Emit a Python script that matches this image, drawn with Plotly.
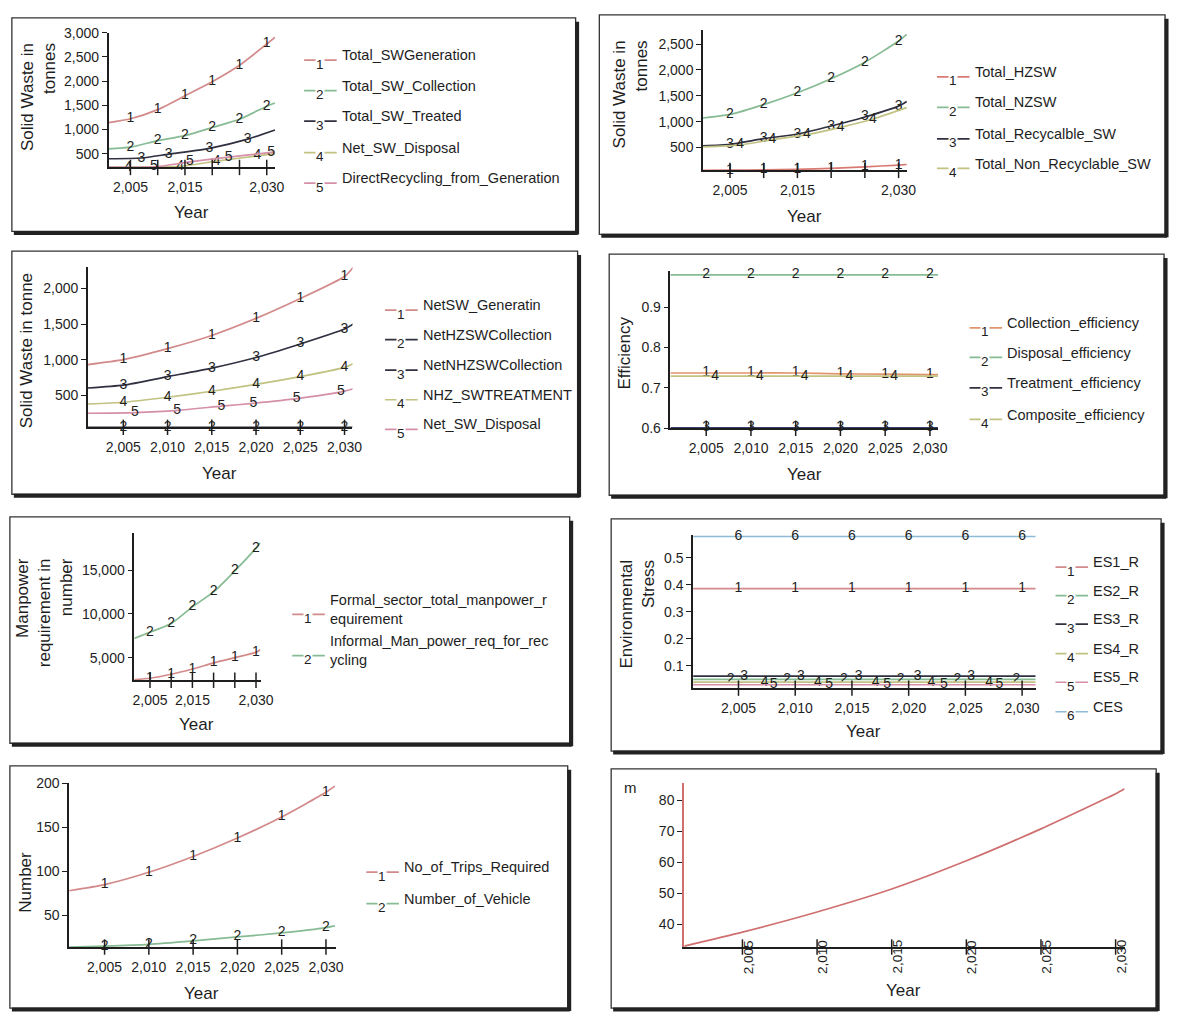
import plotly.graph_objects as go

W, H = 1182, 1019
FONT = "Liberation Sans, Arial, sans-serif"
INK = "#1e1e1e"

# ---------------- data ----------------
# Panel 1: total solid waste streams (tonnes)
p1_names = ["Total_SWGeneration", "Total_SW_Collection", "Total_SW_Treated",
            "Net_SW_Disposal", "DirectRecycling_from_Generation"]
p1_year = [2001, 2005, 2010, 2015, 2020, 2025, 2030, 2031.5]
p1_generation = [1140, 1220, 1410, 1695, 1985, 2325, 2765, 2900]
p1_collection = [600, 635, 770, 872, 1040, 1210, 1480, 1547]
p1_year_treated = [2001, 2007, 2012, 2019.5, 2026.5, 2031.5]
p1_treated = [395, 410, 490, 610, 800, 990]
p1_year_disposal = [2001, 2004.6, 2014.1, 2020.8, 2028.3, 2031.5]
p1_disposal = [222, 224, 238, 345, 455, 500]
p1_year_recycling = [2001, 2009.3, 2015.9, 2023, 2030.8, 2031.5]
p1_recycling = [222, 226, 330, 430, 525, 535]

# Panel 2: hazardous / non-hazardous split (tonnes)
p2_names = ["Total_HZSW", "Total_NZSW", "Total_Recycalble_SW", "Total_Non_Recyclable_SW"]
p2_year = [2001, 2005, 2010, 2015, 2020, 2025, 2030, 2031.2]
p2_hzsw = [55, 60, 65, 75, 95, 125, 160, 170]
p2_nzsw = [1070, 1140, 1330, 1560, 1830, 2150, 2560, 2690]
p2_recyclable = [530, 560, 670, 760, 915, 1090, 1300, 1390]
p2_year_nonrec = [2001, 2006.5, 2011.3, 2016.4, 2021.4, 2026.2, 2031.2]
p2_nonrec = [510, 550, 650, 750, 890, 1050, 1270]

# Panel 3: net flows (tonne)
p3_names = ["NetSW_Generatin", "NetHZSWCollection", "NetNHZSWCollection",
            "NHZ_SWTREATMENT", "Net_SW_Disposal"]
p3_year = [2001, 2005, 2010, 2015, 2020, 2025, 2030, 2031]
p3_generation = [930, 1000, 1155, 1340, 1580, 1860, 2170, 2300]
p3_hz_collection = [48, 48, 48, 48, 48, 48, 48, 48]
p3_nhz_collection = [600, 640, 760, 880, 1030, 1220, 1430, 1500]
p3_treatment = [375, 400, 470, 555, 650, 760, 890, 945]
p3_year_disposal = [2001, 2006.3, 2011.1, 2016.1, 2019.7, 2024.6, 2029.6, 2031]
p3_disposal = [245, 255, 285, 345, 385, 450, 545, 590]

# Panel 4: efficiencies
p4_names = ["Collection_efficiency", "Disposal_efficiency", "Treatment_efficiency",
            "Composite_efficiency"]
p4_year = [2001, 2005, 2010, 2015, 2020, 2025, 2030, 2031]
p4_collection = [0.737, 0.737, 0.737, 0.737, 0.735, 0.734, 0.733, 0.733]
p4_disposal = [0.98, 0.98, 0.98, 0.98, 0.98, 0.98, 0.98, 0.98]
p4_treatment = [0.601, 0.601, 0.601, 0.601, 0.601, 0.601, 0.601, 0.601]
p4_year_composite = [2001, 2006, 2011, 2016, 2021, 2026, 2031]
p4_composite = [0.729, 0.729, 0.729, 0.729, 0.729, 0.729, 0.729]

# Panel 5: manpower requirement (number)
p5_names = ["Formal_sector_total_manpower_r<br>equirement",
            "Informal_Man_power_req_for_rec<br>ycling"]
p5_year = [2001.3, 2005, 2010, 2015, 2020, 2025, 2030, 2031]
p5_formal = [2500, 2650, 3100, 3700, 4400, 5000, 5600, 5900]
p5_informal = [7200, 7900, 8900, 10800, 12500, 14900, 17500, 18100]

# Panel 6: environmental stress
p6_names = ["ES1_R", "ES2_R", "ES3_R", "ES4_R", "ES5_R", "CES"]
p6_year = [2001, 2005, 2010, 2015, 2020, 2025, 2030, 2031.2]
p6_es1 = [0.385, 0.385, 0.385, 0.385, 0.385, 0.385, 0.385, 0.385]
p6_ces = [0.578, 0.578, 0.578, 0.578, 0.578, 0.578, 0.578, 0.578]
p6_year_es2 = [2001, 2004.3, 2009.3, 2014.3, 2019.3, 2024.3, 2029.5, 2031.2]
p6_es2 = [0.05, 0.05, 0.05, 0.05, 0.05, 0.05, 0.05, 0.05]
p6_year_es3 = [2001, 2005.5, 2010.5, 2015.6, 2020.8, 2025.5, 2031.2]
p6_es3 = [0.062, 0.062, 0.062, 0.062, 0.062, 0.062, 0.062]
p6_year_es4 = [2001, 2007.3, 2012, 2017.1, 2022, 2027.1, 2031.2]
p6_es4 = [0.04, 0.04, 0.04, 0.04, 0.04, 0.04, 0.04]
p6_year_es5 = [2001, 2008.1, 2013, 2018.1, 2023.1, 2028, 2031.2]
p6_es5 = [0.03, 0.03, 0.03, 0.03, 0.03, 0.03, 0.03]

# Panel 7: collection logistics
p7_names = ["No_of_Trips_Required", "Number_of_Vehicle"]
p7_year = [2001, 2005, 2010, 2015, 2020, 2025, 2030, 2031]
p7_trips = [78, 85, 99, 117, 138, 162, 190, 197]
p7_vehicles = [14, 15, 17, 21, 25.5, 30, 36, 38]

# Panel 8: landfill height (m)
p8_year = [2001.1, 2005, 2010, 2015, 2020, 2025, 2030, 2030.6]
p8_height = [33, 37.5, 44, 51.4, 60.5, 70.8, 82.1, 83.7]

year_ticks = [2005, 2010, 2015, 2020, 2025, 2030]
sparse_year_labels = [2005, 2015, 2030]

# ---------------- styling ----------------
RED, GREEN, DARK, OLIVE, PINK, BLUE = ("#d38a8a", "#86bb94", "#2f3040",
                                       "#c2c283", "#d58fa8", "#8dbad6")
ORANGE = "#e2946c"

panels = [
    dict(area=(108, 25, 277, 162), frame=(10, 10, 581, 227),
         xr=[2001, 2031.6], yr=[215, 3000], yt=[500, 1000, 1500, 2000, 2500, 3000], yf=",d",
         xl=sparse_year_labels,
         series=[(p1_year, p1_generation, RED, "1"), (p1_year, p1_collection, GREEN, "2"),
                 (p1_year_treated, p1_treated, DARK, "3"), (p1_year_disposal, p1_disposal, OLIVE, "4"),
                 (p1_year_recycling, p1_recycling, PINK, "5")],
         legend=(p1_names, [RED, GREEN, DARK, OLIVE, PINK], 342, [48, 79, 110, 142, 173]),
         ytitle=("Solid Waste in<br>tonnes", 37, 34), xtitle=(192, 208)),
    dict(area=(710, 22, 917, 165), frame=(605, 7, 1178, 230),
         xr=[2001, 2031.3], yr=[56, 2780], yt=[500, 1000, 1500, 2000, 2500], yf=",d",
         xl=sparse_year_labels,
         series=[(p2_year, p2_hzsw, "#d97a72", "1"), (p2_year, p2_nzsw, GREEN, "2"),
                 (p2_year, p2_recyclable, DARK, "3"), (p2_year_nonrec, p2_nonrec, OLIVE, "4")],
         legend=(p2_names, ["#d97a72", GREEN, DARK, OLIVE], 983, [65, 96, 128, 158]),
         ytitle=("Solid Waste in<br>tonnes", 637, 31), xtitle=(813, 212)),
    dict(area=(87, 263, 355, 426), frame=(10, 247, 583, 494),
         xr=[2001, 2030.9], yr=[47, 2305], yt=[500, 1000, 1500, 2000], yf=",d",
         xl=year_ticks,
         series=[(p3_year, p3_generation, RED, "1"), (p3_year, p3_hz_collection, DARK, "2"),
                 (p3_year, p3_nhz_collection, DARK, "3"), (p3_year, p3_treatment, OLIVE, "4"),
                 (p3_year_disposal, p3_disposal, PINK, "5")],
         legend=(p3_names, [RED, DARK, DARK, OLIVE, PINK], 424, [302, 332, 363, 393, 423]),
         ytitle=("Solid Waste in tonne", 25, None, 348), xtitle=(220, 473)),
    dict(area=(677, 267, 948, 427), frame=(615, 250, 1177, 495),
         xr=[2001, 2030.9], yr=[0.6, 0.99], yt=[0.6, 0.7, 0.8, 0.9], yf=".1f",
         xl=year_ticks,
         series=[(p4_year, p4_collection, ORANGE, "1"), (p4_year, p4_disposal, GREEN, "2"),
                 (p4_year, p4_treatment, "#34406a", "3"), (p4_year_composite, p4_composite, OLIVE, "4")],
         legend=(p4_names, [ORANGE, GREEN, DARK, OLIVE], 1016, [320, 350, 381, 413]),
         ytitle=("Efficiency", 631, None, 350), xtitle=(813, 474)),
    dict(area=(134, 533, 262, 683), frame=(8, 517, 575, 747),
         xr=[2001.3, 2031.1], yr=[2415, 19270], yt=[5000, 10000, 15000], yf=",d",
         xl=sparse_year_labels,
         series=[(p5_year, p5_formal, RED, "1"), (p5_year, p5_informal, GREEN, "2")],
         legend=(p5_names, [RED, GREEN], 330, [611, 653]),
         ytitle=("Manpower<br>requirement in<br>number", 43, 557), xtitle=(197, 728)),
    dict(area=(700, 535, 1047, 691), frame=(617, 519, 1174, 755),
         xr=[2001, 2031.2], yr=[0.0175, 0.585], yt=[0.1, 0.2, 0.3, 0.4, 0.5], yf=".1f",
         xl=year_ticks,
         series=[(p6_year, p6_es1, RED, "1"), (p6_year_es2, p6_es2, GREEN, "2"),
                 (p6_year_es3, p6_es3, DARK, "3"), (p6_year_es4, p6_es4, OLIVE, "4"),
                 (p6_year_es5, p6_es5, PINK, "5"), (p6_year, p6_ces, BLUE, "6")],
         legend=(p6_names, [RED, GREEN, DARK, OLIVE, PINK, BLUE], 1103,
                 [563, 592, 621, 651, 680, 710]),
         ytitle=("Environmental<br>Stress", 644, 558), xtitle=(873, 735)),
    dict(area=(68, 787, 338, 954), frame=(8, 770, 573, 1016),
         xr=[2001, 2031.1], yr=[14, 201], yt=[50, 100, 150, 200], yf="d",
         xl=year_ticks,
         series=[(p7_year, p7_trips, RED, "1"), (p7_year, p7_vehicles, GREEN, "2")],
         legend=(p7_names, [RED, GREEN], 405, [873, 905]),
         ytitle=("Number", 23, None, 888), xtitle=(202, 1001)),
    dict(area=(691, 787, 1137, 954), frame=(617, 773, 1169, 1016),
         xr=[2001.1, 2030.6], yr=[32.7, 85.7], yt=[40, 50, 60, 70, 80], yf="d",
         xl=year_ticks, rotate=True, yline="#cf6f6f",
         series=[(p8_year, p8_height, "#cf6f6f", None)],
         legend=None,
         ytitle=None, xtitle=(913, 998)),
]


def px_x(p):
    return p / W


def px_y(p):
    return 1 - p / H


fig = go.Figure()
layout = {}
shapes = []
annotations = []
TICK_FONT = dict(family=FONT, size=14, color=INK)
TITLE_FONT = dict(family=FONT, size=17, color=INK)
LEGEND_FONT = dict(family=FONT, size=14.5, color=INK)

for i, P in enumerate(panels, start=1):
    xa = "x" if i == 1 else f"x{i}"
    ya = "y" if i == 1 else f"y{i}"
    l, t, r, b = P["area"]
    rotate = P.get("rotate", False)
    layout["xaxis" if i == 1 else f"xaxis{i}"] = dict(
        domain=[px_x(l), px_x(r)], anchor=ya, range=P["xr"],
        tickmode="array", tickvals=P["xl"], tickformat=",d",
        ticks="", showline=True, linecolor=INK, linewidth=1.5,
        showgrid=False, zeroline=False, tickfont=TICK_FONT,
        showticklabels=not rotate, ticklabelstandoff=6,
    )
    layout["yaxis" if i == 1 else f"yaxis{i}"] = dict(
        domain=[px_y(b), px_y(t)], anchor=xa, range=P["yr"],
        tickmode="array", tickvals=P["yt"], tickformat=P["yf"],
        ticks="outside", ticklen=5, tickwidth=1.4, tickcolor=INK,
        showline=True, linecolor=P.get("yline", INK),
        linewidth=2 if P.get("yline") else 1.5,
        showgrid=False, zeroline=False, tickfont=TICK_FONT,
    )

    # vertical year labels straddling the time axis
    if rotate:
        for yr in P["xl"]:
            annotations.append(dict(x=yr, xref=xa, y=px_y(964), yref="paper",
                                    text=f"{yr:,}", textangle=-90, showarrow=False,
                                    xanchor="center", yanchor="middle", xshift=6,
                                    font=dict(family=FONT, size=13.5, color=INK)))

    # numbered pens drawn along each curve
    for xs, ys, colour, num in P["series"]:
        fig.add_trace(go.Scatter(
            x=xs, y=ys, xaxis=xa, yaxis=ya, mode="lines",
            line=dict(color=colour, width=1.7, shape="spline", smoothing=0.6),
            showlegend=False, hoverinfo="skip", cliponaxis=False))
        if num:
            fig.add_trace(go.Scatter(
                x=xs[1:-1], y=ys[1:-1], xaxis=xa, yaxis=ya, mode="text",
                text=[num] * (len(xs) - 2), textposition="middle center",
                textfont=dict(family=FONT, size=14, color=INK),
                showlegend=False, hoverinfo="skip", cliponaxis=False))

    # cross-shaped tick marks on the time axis
    fig.add_trace(go.Scatter(
        x=year_ticks, y=[P["yr"][0]] * len(year_ticks), xaxis=xa, yaxis=ya,
        mode="markers", marker=dict(symbol="line-ns", size=11,
                                    line=dict(color=INK, width=1.5)),
        showlegend=False, hoverinfo="skip", cliponaxis=False))

    # panel frame with a drop-shadow edge
    fl, ft, fr, fb = P["frame"]
    shapes.append(dict(type="rect", xref="paper", yref="paper",
                       x0=px_x(fl), x1=px_x(fr), y0=px_y(fb), y1=px_y(ft),
                       line=dict(color="#333333", width=1.3)))
    shapes.append(dict(type="line", xref="paper", yref="paper",
                       x0=px_x(fl + 2), x1=px_x(fr + 2), y0=px_y(fb + 1.5), y1=px_y(fb + 1.5),
                       line=dict(color="#222222", width=4)))
    shapes.append(dict(type="line", xref="paper", yref="paper",
                       x0=px_x(fr + 1.5), x1=px_x(fr + 1.5), y0=px_y(ft + 4), y1=px_y(fb + 3),
                       line=dict(color="#222222", width=4)))

    # legend: pen sample with its number, then the variable name
    if P["legend"]:
        names, colours, tx, rows = P["legend"]
        for k, (name, colour, ty) in enumerate(zip(names, colours, rows), start=1):
            shapes.append(dict(type="line", xref="paper", yref="paper",
                               x0=px_x(tx - 36), x1=px_x(tx - 3),
                               y0=px_y(ty + 5), y1=px_y(ty + 5),
                               line=dict(color=colour, width=1.7)))
            annotations.append(dict(x=px_x(tx - 20), y=px_y(ty + 9), xref="paper", yref="paper",
                                    text=str(k), showarrow=False, xanchor="center", yanchor="middle",
                                    bgcolor="white", borderpad=0,
                                    font=dict(family=FONT, size=13.5, color=INK)))
            annotations.append(dict(x=px_x(tx), y=px_y(ty), xref="paper", yref="paper",
                                    text=name, showarrow=False, xanchor="left", yanchor="middle",
                                    align="left", font=LEGEND_FONT))

    # axis titles
    if P["ytitle"]:
        yt = P["ytitle"]
        if yt[2] is not None:
            annotations.append(dict(x=px_x(yt[1]), y=px_y(yt[2]), xref="paper", yref="paper",
                                    text=yt[0], textangle=-90, align="right",
                                    xanchor="center", yanchor="top", showarrow=False,
                                    font=TITLE_FONT))
        else:
            annotations.append(dict(x=px_x(yt[1]), y=px_y(yt[3]), xref="paper", yref="paper",
                                    text=yt[0], textangle=-90,
                                    xanchor="center", yanchor="middle", showarrow=False,
                                    font=TITLE_FONT))
    xt = P["xtitle"]
    annotations.append(dict(x=px_x(xt[0]), y=px_y(xt[1]), xref="paper", yref="paper",
                            text="Year", showarrow=False, xanchor="center", yanchor="middle",
                            font=TITLE_FONT))

# unit label of the landfill-height panel
annotations.append(dict(x=px_x(637), y=px_y(792), xref="paper", yref="paper", text="m",
                        showarrow=False, xanchor="center", yanchor="middle",
                        font=dict(family=FONT, size=15, color=INK)))

fig.update_layout(
    width=W, height=H, margin=dict(l=0, r=0, t=0, b=0),
    paper_bgcolor="white", plot_bgcolor="rgba(0,0,0,0)",
    showlegend=False, shapes=shapes, annotations=annotations,
    font=dict(family=FONT, color=INK),
    **layout,
)

fig.write_html("out.html")
